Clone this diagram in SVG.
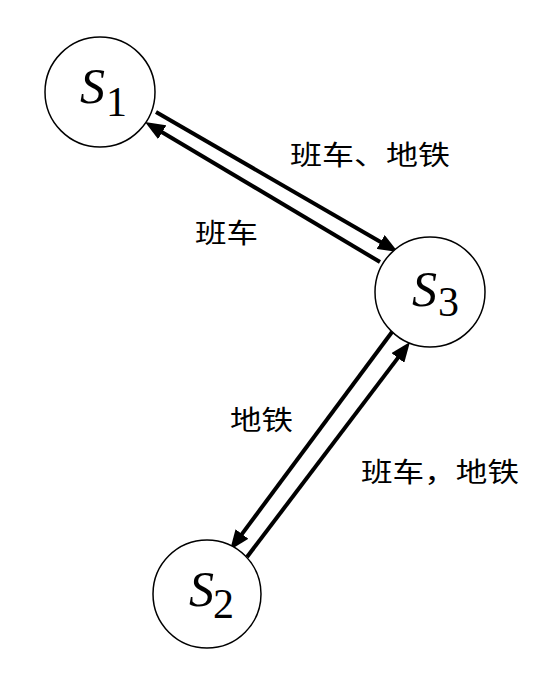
<svg xmlns="http://www.w3.org/2000/svg" width="555" height="682" viewBox="0 0 555 682">
<style>
.node circle{fill:#fff;stroke:#000;stroke-width:1.5}
.lbl{font-family:"Liberation Serif","DejaVu Serif",serif;font-style:italic;font-size:50px;fill:#000}
.sub{font-family:"Liberation Serif","DejaVu Serif",serif;font-style:normal;font-size:42px}
.edge line{stroke:#000;stroke-width:4;fill:none}
.cn{font-family:"Noto Sans CJK SC","Noto Sans",sans-serif;font-size:27px;fill:#000}
</style>
<defs>
<marker id="ah" markerUnits="userSpaceOnUse" markerWidth="20" markerHeight="16" refX="7" refY="8" orient="auto">
<path d="M0,0 L20,8 L0,16 z" fill="#000"/>
</marker>
</defs>
<rect width="555" height="682" fill="#fff"/>
<g id="connectors" class="edge">
<line x1="156" y1="112" x2="386.7" y2="245.5" marker-end="url(#ah)"/>
<line x1="380" y1="262" x2="156.2" y2="128.7" marker-end="url(#ah)"/>
<line x1="392" y1="332" x2="237.8" y2="539.6" marker-end="url(#ah)"/>
<line x1="247" y1="557" x2="402.1" y2="352.4" marker-end="url(#ah)"/>
</g>
<g id="S1" class="node">
<circle cx="100" cy="92" r="55"/>
<text class="lbl" x="80" y="103">S</text>
<text class="sub" x="106" y="116">1</text>
</g>
<g id="S3" class="node">
<circle cx="430" cy="292" r="55"/>
<text class="lbl" x="412" y="306">S</text>
<text class="sub" x="438" y="316">3</text>
</g>
<g id="S2" class="node">
<circle cx="207" cy="594" r="54"/>
<text class="lbl" x="189" y="606">S</text>
<text class="sub" x="213" y="618">2</text>
</g>
<g id="labels">
<text class="cn" x="290" y="165" textLength="160" lengthAdjust="spacingAndGlyphs">班车、地铁</text>
<text class="cn" x="195" y="243" textLength="63" lengthAdjust="spacingAndGlyphs">班车</text>
<text class="cn" x="230" y="430" textLength="63" lengthAdjust="spacingAndGlyphs">地铁</text>
<text class="cn" x="361" y="482" textLength="158" lengthAdjust="spacingAndGlyphs">班车，地铁</text>
</g>
</svg>
